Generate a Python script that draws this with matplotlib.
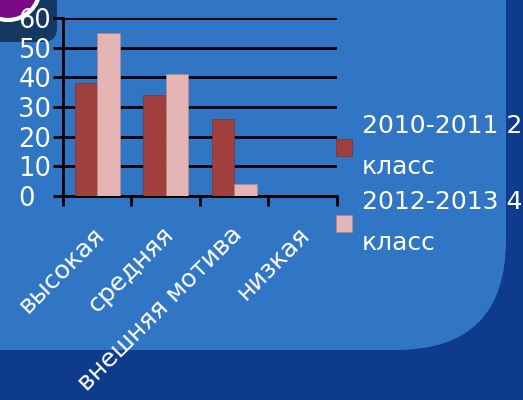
import numpy as np
import matplotlib.pyplot as plt
from matplotlib.patches import FancyBboxPatch, Circle
from matplotlib.transforms import ScaledTranslation

# données
categories = ["высокая", "средняя", "внешняя мотива", "низкая"]
serie_2010 = [38, 34, 26, 0]
serie_2012 = [55, 41, 4, 0]
labels = ["2010-2011 2\nкласс", "2012-2013 4\nкласс"]
y_ticks = [0, 10, 20, 30, 40, 50, 60]

COL_DARK = "#a0403e"
COL_PINK = "#e5b4b4"
BG_LIGHT = "#3176c4"
BG_NAVY = "#0e3b8c"

fig = plt.figure(figsize=(5.23, 4), dpi=100)
fig.patch.set_facecolor(BG_NAVY)

# fond : zone bleu clair avec coin arrondi en bas à droite
fig.patches.append(FancyBboxPatch((-200, 50), 706, 500,
                                  boxstyle="round,pad=0,rounding_size=110",
                                  transform=None, facecolor=BG_LIGHT,
                                  edgecolor="none", zorder=0))
# petit motif en haut à gauche
fig.patches.append(FancyBboxPatch((-40, 358), 97, 80,
                                  boxstyle="round,pad=0,rounding_size=14",
                                  transform=None, facecolor="#163761",
                                  edgecolor="none", zorder=0))
fig.patches.append(Circle((8, 412), 32, transform=None, facecolor="#7a0a86",
                          edgecolor="white", linewidth=3, zorder=0))

ax = fig.add_axes([0.1205, 0.51, 0.5235, 0.445])
ax.set_zorder(5)
ax.set_facecolor("none")

x = np.arange(len(categories))
w = 0.33
ax.bar(x - w / 2, serie_2010, w, color=COL_DARK, edgecolor="#7a3a3a",
       linewidth=0.6, label=labels[0], zorder=3)
ax.bar(x + w / 2, serie_2012, w, color=COL_PINK, edgecolor="#b08a8a",
       linewidth=0.6, label=labels[1], zorder=3)

ax.set_xlim(-0.5, len(categories) - 0.5)
ax.set_ylim(0, 60)
ax.set_yticks(y_ticks)
ax.set_yticklabels([str(v) for v in y_ticks], color="white", fontsize=18.5)
for lbl in ax.get_yticklabels():
    lbl.set_horizontalalignment("left")
ax.grid(axis="y", color="black", linewidth=2, zorder=1)
ax.set_axisbelow(True)

ax.set_xticks(np.arange(-0.5, len(categories), 1.0))
ax.set_xticklabels([])
ax.set_xticks(x, minor=True)
ax.set_xticklabels(categories, minor=True, rotation=45, ha="right",
                   va="top", rotation_mode="anchor", color="white",
                   fontsize=18.3)
ax.tick_params(axis="x", which="major", direction="out", length=7.2,
               width=2, color="black")
ax.tick_params(axis="x", which="minor", length=0, pad=19)
ax.tick_params(axis="y", direction="out", length=7.2, width=2,
               color="black", pad=25)

# petit décalage vers la gauche des étiquettes de catégories
shift = ScaledTranslation(-0.045, 0, fig.dpi_scale_trans)
for lbl in ax.get_xticklabels(minor=True):
    lbl.set_transform(lbl.get_transform() + shift)

for side in ["top", "right"]:
    ax.spines[side].set_visible(False)
for side in ["left", "bottom"]:
    ax.spines[side].set_color("black")
    ax.spines[side].set_linewidth(2)

leg = fig.legend(loc="upper left", bbox_to_anchor=(0.642, 0.715),
                 frameon=False, fontsize=18, labelcolor="white",
                 handlelength=0.65, handleheight=0.65, handletextpad=0.4,
                 labelspacing=0.45, borderpad=0, borderaxespad=0)
leg.set_zorder(6)
for t in leg.get_texts():
    t.set_linespacing(1.9)

fig.savefig("out.png", dpi=100, facecolor=fig.get_facecolor())
